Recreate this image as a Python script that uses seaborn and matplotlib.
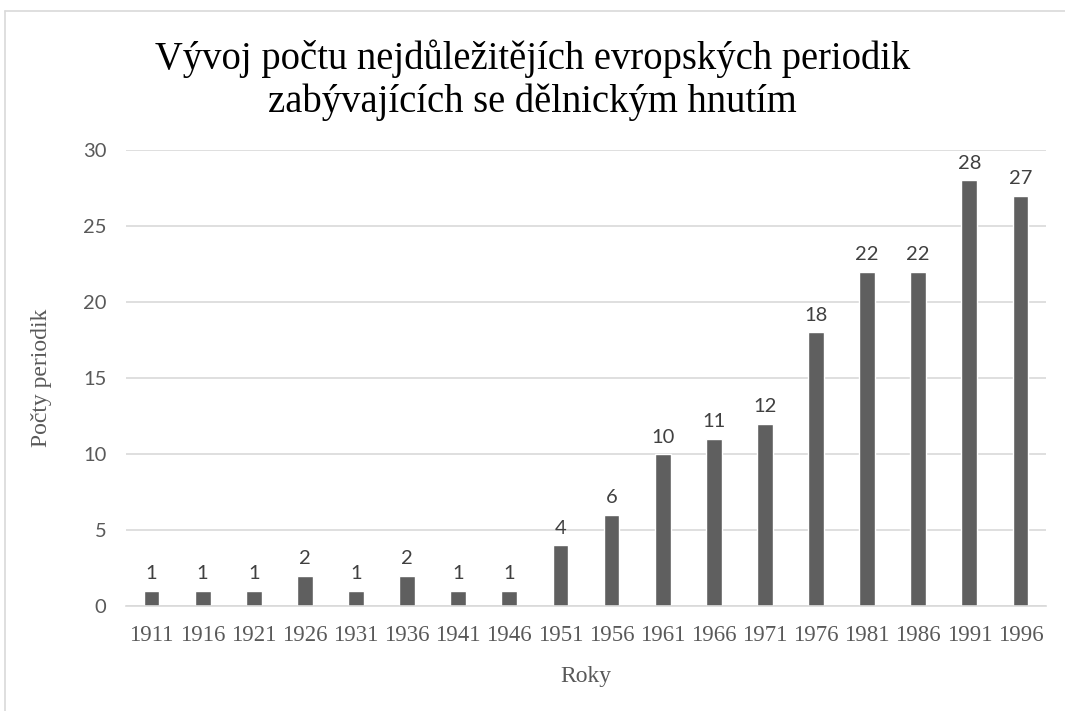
import matplotlib
matplotlib.use('Agg')
import matplotlib.pyplot as plt
import seaborn as sns
import pandas as pd
from matplotlib.lines import Line2D

# data
roky = ['1911', '1916', '1921', '1926', '1931', '1936', '1941', '1946', '1951',
        '1956', '1961', '1966', '1971', '1976', '1981', '1986', '1991', '1996']
pocty = [1, 1, 1, 2, 1, 2, 1, 1, 4, 6, 10, 11, 12, 18, 22, 22, 28, 27]

df = pd.DataFrame({'Roky': roky, 'Pocty': pocty})

sns.set_style('white')
serif = ['Liberation Serif', 'DejaVu Serif']
sans = ['Lato', 'DejaVu Sans']

fig = plt.figure(figsize=(10.65, 7.11), dpi=100)
ax = fig.add_axes([126 / 1065, 1 - 606 / 711, 920 / 1065, 456 / 711])

sns.barplot(data=df, x='Roky', y='Pocty', color='#5f5f5f', saturation=1,
            width=0.31, ax=ax)

ax.set_ylim(0, 30)
ax.set_xlim(-0.5, len(roky) - 0.5)
ax.set_yticks(range(0, 31, 5))
ax.grid(axis='y', color='#d9d9d9', linewidth=1.2)
ax.set_axisbelow(True)
for s in ['top', 'right', 'left']:
    ax.spines[s].set_visible(False)
ax.spines['bottom'].set_color('#d9d9d9')
ax.spines['bottom'].set_linewidth(1.2)
ax.tick_params(axis='both', length=0)
ax.tick_params(axis='y', pad=14)
ax.tick_params(axis='x', pad=14)

for lbl in ax.get_yticklabels():
    lbl.set_family(sans)
    lbl.set_fontsize(14.5)
    lbl.set_color('#595959')
for lbl in ax.get_xticklabels():
    lbl.set_family(serif)
    lbl.set_fontsize(16.5)
    lbl.set_color('#595959')

# popisky hodnot
ax.bar_label(ax.containers[0], padding=6, fontsize=14.5, color='#404040',
             family=sans)

ax.set_xlabel('Roky', family=serif, fontsize=17, color='#595959', labelpad=14)
ax.set_ylabel('Počty periodik', family=serif, fontsize=17, color='#595959',
              labelpad=22)

fig.text(0.5, 1 - 80 / 711,
         'Vývoj počtu nejdůležitějích evropských periodik\nzabývajících se dělnickým hnutím',
         ha='center', va='center', family=serif, fontsize=27.8, color='black',
         linespacing=1.2)

# okraj grafu
fig.add_artist(Line2D([5 / 1065, 5 / 1065], [0, 1 - 11 / 711], color='#d9d9d9',
                      linewidth=1.2, transform=fig.transFigure))
fig.add_artist(Line2D([5 / 1065, 1], [1 - 11 / 711, 1 - 11 / 711], color='#d9d9d9',
                      linewidth=1.2, transform=fig.transFigure))

fig.savefig('out.png', dpi=100, facecolor='white')
